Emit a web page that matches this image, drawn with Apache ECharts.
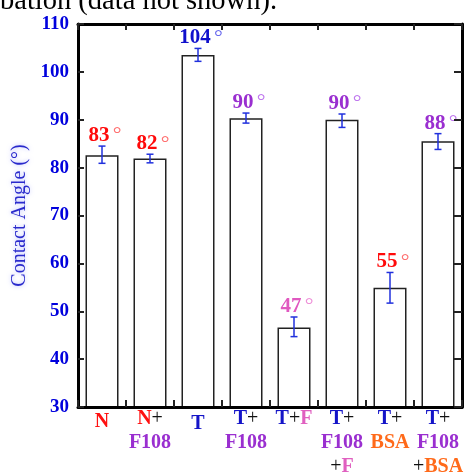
<!DOCTYPE html>
<html>
<head>
<meta charset="utf-8">
<style>html,body{margin:0;padding:0;background:#fff}#c{width:465px;height:475px}</style>
<script src="https://cdn.jsdelivr.net/npm/echarts@6/dist/echarts.min.js"></script>
</head>
<body>
<div id="c"></div>
<script>
// ---- data ----
const categories = ['N', 'N+\nF108', 'T', 'T+\nF108', 'T+F', 'T+\nF108\n+F', 'T+\nBSA', 'T+\nF108\n+BSA'];
const barValues = [82.6, 81.9, 103.5, 90.3, 46.6, 90.0, 54.9, 85.5];
const errLow = [80.9, 81.0, 102.2, 89.3, 44.7, 88.4, 51.7, 83.8];
const errHigh = [84.5, 82.8, 104.9, 91.4, 48.8, 91.2, 58.1, 87.1];
const barLabels = ['83', '82', '104', '90', '47', '90', '55', '88'];
const yTicks = [30, 40, 50, 60, 70, 80, 90, 100, 110];

// ---- styles ----
const SERIF = '"Liberation Serif", "DejaVu Serif", serif';
const labelStyleKey = ['red', 'red', 'blue', 'purple', 'pink', 'purple', 'red', 'purple'];
const palette = {
  red: ['#ff0a0a', '#ff7070'],
  blue: ['#1010cc', '#6a6aee'],
  purple: ['#9a2fd0', '#bf78ee'],
  pink: ['#e058c0', '#ee90d8']
};
const tokenStyle = { 'N': 'r', 'T': 'b', 'F108': 'p', 'F': 'k', 'BSA': 'o', '+': 'plus' };
const base = { fontFamily: SERIF, fontSize: 20, fontWeight: 'bold', lineHeight: 24 };
const rich = {
  r: Object.assign({}, base, { color: '#ff1010' }),
  b: Object.assign({}, base, { color: '#1414c8' }),
  p: Object.assign({}, base, { color: '#9a2fd0' }),
  k: Object.assign({}, base, { color: '#e060c0' }),
  o: Object.assign({}, base, { color: '#ff6a1a' }),
  plus: Object.assign({}, base, { color: '#111', fontWeight: 'normal' }),
  r1: Object.assign({}, base, { color: '#ff1010', lineHeight: 29 }),
  b1: Object.assign({}, base, { color: '#1414c8', lineHeight: 34 })
};

function fmtCat(v) {
  if (v === 'N') return '{r1|N}';
  if (v === 'T') return '{b1|T}';
  return v.split('\n').map(line =>
    line.replace(/F108|BSA|N|T|F|\+/g, t => '{' + tokenStyle[t] + '|' + t + '}')
  ).join('\n');
}

const errData = categories.map((c, i) => [i, errLow[i], errHigh[i]]);

const chart = echarts.init(document.getElementById('c'), null, { renderer: 'canvas' });

const frameLine = { show: true, lineStyle: { color: '#000', width: 3 } };
const tickStyle = { color: '#222', width: 2 };

chart.setOption({
  animation: false,
  backgroundColor: '#fff',
  graphic: [{
    type: 'text',
    x: 0, y: 2,
    style: {
      text: 'bation (data not shown).',
      font: '28.5px ' + SERIF,
      fill: '#000',
      verticalAlign: 'middle',
      align: 'left'
    }
  }],
  grid: { left: 78, right: 3, top: 24, bottom: 68, containLabel: false, outerBoundsMode: 'none' },
  xAxis: [{
    type: 'category',
    data: categories,
    position: 'bottom',
    axisLine: frameLine,
    axisTick: { show: true, inside: true, length: 7, lineStyle: tickStyle },
    axisLabel: { show: true, interval: 0, margin: 0, formatter: fmtCat, rich: rich, verticalAlign: 'top', hideOverlap: false },
    splitLine: { show: false },
    z: 10
  }, {
    type: 'category',
    data: categories,
    position: 'top',
    axisLine: frameLine,
    axisTick: { show: true, inside: true, length: 6, lineStyle: tickStyle },
    axisLabel: { show: false },
    splitLine: { show: false },
    z: 10
  }],
  yAxis: [{
    type: 'value',
    min: yTicks[0], max: yTicks[yTicks.length - 1], interval: 10,
    position: 'left',
    name: 'Contact Angle (°)',
    nameLocation: 'middle',
    nameGap: 45,
    nameTextStyle: {
      fontFamily: SERIF, fontSize: 20, color: '#2a2acc',
      textShadowColor: 'rgba(120,130,255,0.55)', textShadowBlur: 4
    },
    axisLine: frameLine,
    axisTick: { show: true, inside: true, length: 6, lineStyle: tickStyle },
    axisLabel: {
      show: true, margin: 9, fontFamily: SERIF, fontSize: 19, fontWeight: 'bold',
      color: '#0000dd', padding: [0, 0, 4, 0]
    },
    splitLine: { show: false },
    z: 10
  }, {
    type: 'value',
    min: yTicks[0], max: yTicks[yTicks.length - 1], interval: 10,
    position: 'right',
    axisLine: frameLine,
    axisTick: { show: true, inside: true, length: 8, lineStyle: tickStyle },
    axisLabel: { show: false },
    splitLine: { show: false },
    z: 10
  }],
  series: [{
    type: 'bar',
    xAxisIndex: 0, yAxisIndex: 0,
    data: barValues,
    barWidth: 33,
    itemStyle: { color: '#fff', borderColor: '#222', borderWidth: 1.5 },
    z: 1
  }, {
    type: 'custom',
    xAxisIndex: 0, yAxisIndex: 0,
    data: errData,
    z: 5,
    renderItem: function (params, api) {
      const i = api.value(0);
      const lo = api.coord([i, api.value(1)]);
      const hi = api.coord([i, api.value(2)]);
      const x = lo[0];
      const cap = 3.5;
      const ls = { stroke: '#2030dd', lineWidth: 1.5 };
      const pal = palette[labelStyleKey[i]];
      return {
        type: 'group',
        children: [
          { type: 'line', shape: { x1: x, y1: lo[1], x2: x, y2: hi[1] }, style: ls },
          { type: 'line', shape: { x1: x - cap, y1: lo[1], x2: x + cap, y2: lo[1] }, style: ls },
          { type: 'line', shape: { x1: x - cap, y1: hi[1], x2: x + cap, y2: hi[1] }, style: ls },
          {
            type: 'text',
            style: {
              x: x + 3, y: hi[1] + 0.5,
              text: '{n|' + barLabels[i] + '} {d|°}',
              align: 'center', verticalAlign: 'bottom',
              rich: {
                n: { fontFamily: SERIF, fontSize: 21, fontWeight: 'bold', fill: pal[0], lineHeight: 22 },
                d: { fontFamily: SERIF, fontSize: 22, fontWeight: 'normal', fill: pal[1], lineHeight: 22 }
              }
            }
          }
        ]
      };
    }
  }]
});
</script>
</body>
</html>
